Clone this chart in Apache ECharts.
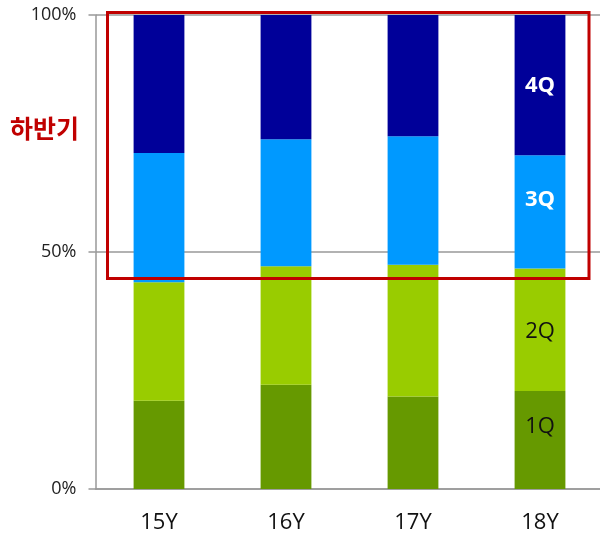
<!DOCTYPE html>
<html>
<head>
<meta charset="utf-8">
<script src="https://cdn.jsdelivr.net/npm/echarts@6/dist/echarts.min.js"></script>
<style>html,body{margin:0;padding:0;background:#fff}#c{width:600px;height:538px}</style>
</head>
<body>
<div id="c"></div>
<script>
var categories = ['15Y', '16Y', '17Y', '18Y'];
var q1 = [18.6, 22.0, 19.5, 20.7];
var q2 = [25.0, 25.0, 27.8, 25.8];
var q3 = [27.3, 26.8, 27.1, 23.9];
var q4 = [29.1, 26.2, 25.6, 29.6];
var seriesNames = ['1Q', '2Q', '3Q', '4Q'];
var yTicks = ['0%', '50%', '100%'];

var colors = ['#669900', '#99cc00', '#0099ff', '#000099'];
var labelColors = ['#111', '#111', '#fff', '#fff'];
var labelWeights = ['normal', 'normal', 'bold', 'bold'];
var labelOffsets = [[0, -13], [0, 2], [0, -12], [0, 1]];
var FONT = '"Open Sans", "Noto Sans CJK KR", sans-serif';

var chart = echarts.init(document.getElementById('c'), null, {renderer: 'canvas'});
var all = [q1, q2, q3, q4];
var series = all.map(function (vals, si) {
  return {
    name: seriesNames[si],
    type: 'bar',
    stack: 'total',
    barWidth: '40%',
    itemStyle: {color: colors[si]},
    data: vals.map(function (v, i) {
      var item = {value: v};
      if (i === vals.length - 1) {
        item.label = {
          show: true,
          position: 'inside',
          formatter: seriesNames[si],
          color: labelColors[si],
          fontWeight: labelWeights[si],
          fontSize: 22,
          fontFamily: FONT,
          offset: labelOffsets[si]
        };
      }
      return item;
    })
  };
});

chart.setOption({
  animation: false,
  grid: {left: 95.5, width: 508, top: 15, bottom: 49, containLabel: false, outerBoundsMode: 'none'},
  xAxis: {
    type: 'category',
    data: categories,
    axisLine: {show: true, lineStyle: {color: '#999', width: 1.5}},
    axisTick: {show: false},
    axisLabel: {color: '#111', fontSize: 22, fontFamily: FONT, margin: 23}
  },
  yAxis: {
    type: 'value',
    min: 0,
    max: 100,
    interval: 50,
    axisLine: {show: true, lineStyle: {color: '#999', width: 1.5}},
    axisTick: {show: true, length: 7, lineStyle: {color: '#999', width: 1.5}},
    splitLine: {show: true, lineStyle: {color: '#999', width: 1.5}},
    axisLabel: {
      color: '#222', fontSize: 18, fontFamily: FONT, margin: 19,
      formatter: function (v) { return yTicks[Math.round(v / 50)]; }
    }
  },
  graphic: [
    {
      type: 'rect',
      shape: {x: 107.5, y: 12.5, width: 481.5, height: 266},
      style: {fill: 'none', stroke: '#c00000', lineWidth: 3},
      z: 100
    },
    {
      type: 'text',
      left: 10,
      top: 116,
      style: {text: '하반기', fill: '#c00000', font: 'bold 25px "Noto Sans CJK KR", sans-serif'},
      z: 100
    }
  ],
  series: series
});
</script>
</body>
</html>
